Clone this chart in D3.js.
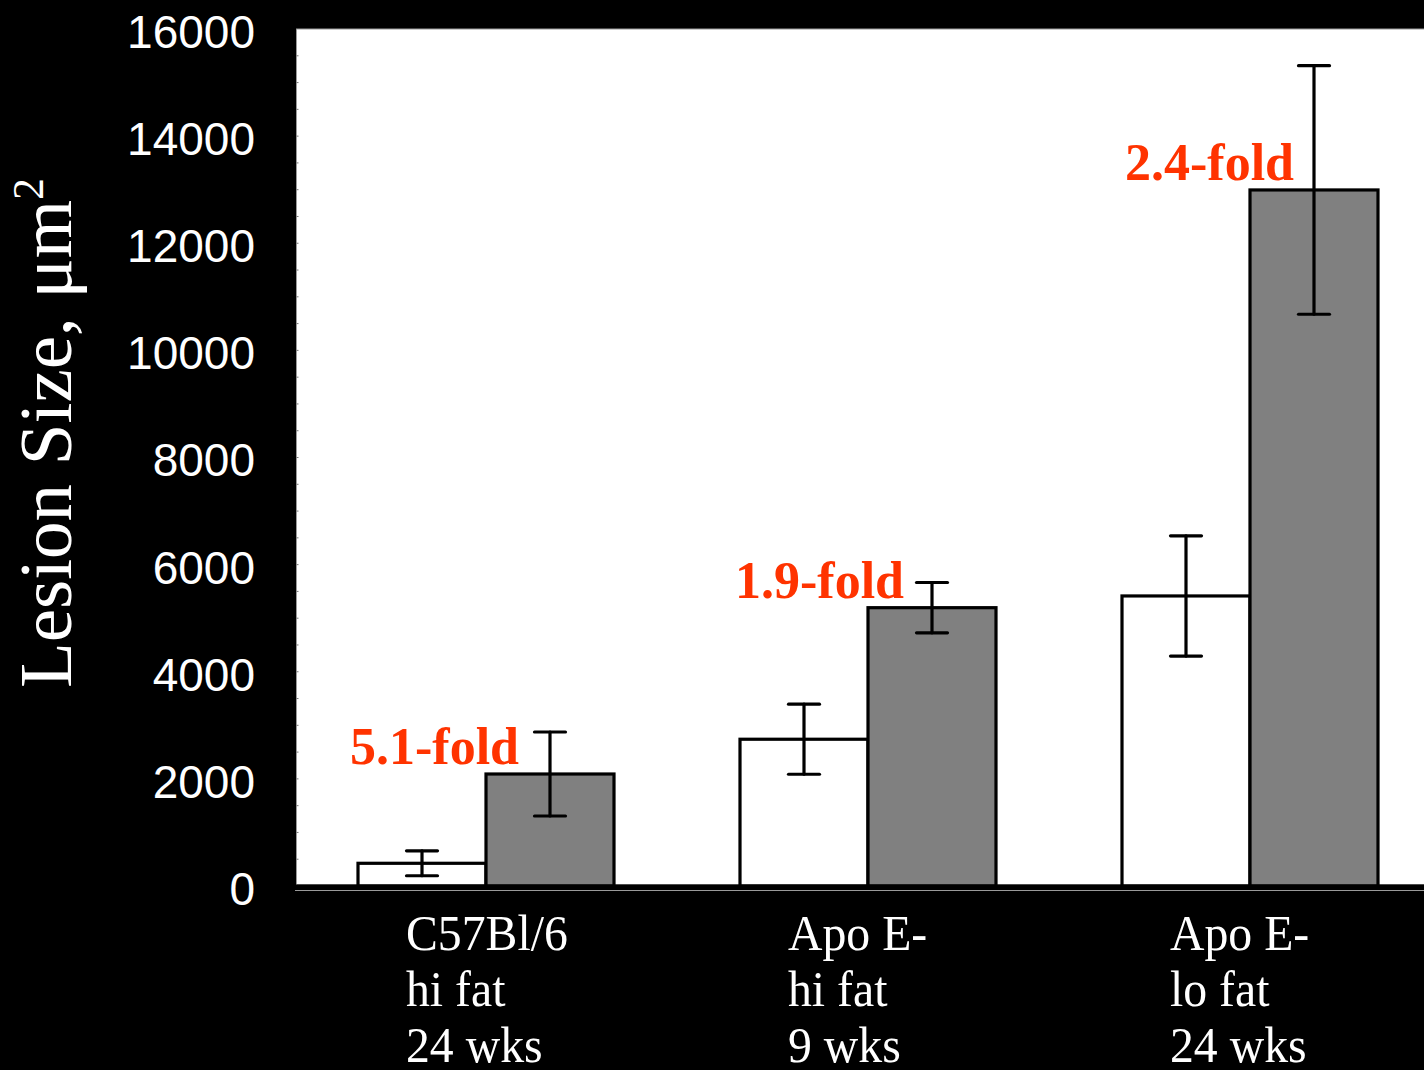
<!DOCTYPE html>
<html>
<head>
<meta charset="utf-8">
<script src="https://cdn.jsdelivr.net/npm/d3@7"></script>
<style>
  html, body { margin: 0; padding: 0; background: #000; }
  svg { display: block; }
</style>
</head>
<body>
<svg id="chart" width="1424" height="1070"></svg>
<script>
// ---- data ----
const categories = ["C57Bl/6|hi fat|24 wks", "Apo E-|hi fat|9 wks", "Apo E-|lo fat|24 wks"];
const series = ["control", "treated"];
const controlValues = [424, 2740, 5415];
const controlErrors = [233, 654, 1122];
const treatedValues = [2091, 5196, 12995];
const treatedErrors = [784, 470, 2321];
const foldLabels = ["5.1-fold", "1.9-fold", "2.4-fold"];
const yTicks = [0, 2000, 4000, 6000, 8000, 10000, 12000, 14000, 16000];
const yTitle = "Lesion Size, \u03bcm";

const rows = [];
categories.forEach((c, i) => {
  rows.push({cat: c, s: "control", v: controlValues[i], e: controlErrors[i]});
  rows.push({cat: c, s: "treated", v: treatedValues[i], e: treatedErrors[i]});
});

const svg = d3.select("#chart");
const W = 1424, H = 1070;
svg.append("rect").attr("width", W).attr("height", H).attr("fill", "#000");

const plotLeft = 296.5, plotTop = 29, plotBottom = 884.5;
const y = d3.scaleLinear().domain([0, 16000]).range([886, 29]);
const x = d3.scaleBand().domain(categories).range([295, 1441]).padding(0);
const xs = d3.scaleBand().domain(series).range([63, 319]).padding(0);

// plot background
svg.append("rect").attr("x", plotLeft).attr("y", plotTop)
  .attr("width", W - plotLeft + 5).attr("height", plotBottom - plotTop)
  .attr("fill", "#fff").attr("stroke", "#999").attr("stroke-width", 1);

// minor y ticks inside plot
const minor = d3.range(500, 16000, 500);
svg.append("g").selectAll("line").data(minor).join("line")
  .attr("x1", plotLeft).attr("x2", plotLeft + 2)
  .attr("y1", d => y(d)).attr("y2", d => y(d))
  .attr("stroke", "#777").attr("stroke-width", 1);

// y axis labels
const yAxis = d3.axisLeft(y).tickValues(yTicks).tickSize(0).tickPadding(41).tickFormat(d3.format("d"));
const yg = svg.append("g").attr("transform", "translate(296,0)").call(yAxis);
yg.select(".domain").remove();
yg.selectAll("text").attr("fill", "#fff")
  .attr("font-family", "'Liberation Sans', Arial, sans-serif")
  .attr("font-size", 46).attr("dy", "0.4em");

// bars
const bars = svg.append("g");
bars.selectAll("rect").data(rows).join("rect")
  .attr("x", d => x(d.cat) + xs(d.s))
  .attr("y", d => y(d.v))
  .attr("width", xs.bandwidth())
  .attr("height", d => y(0) - y(d.v))
  .attr("fill", d => d.s === "control" ? "#fff" : "#808080")
  .attr("stroke", "#000").attr("stroke-width", 3.2);

// error bars
const eg = svg.append("g").attr("stroke", "#000").attr("stroke-width", 3.2).attr("stroke-linecap", "round");
rows.forEach(d => {
  const cx = x(d.cat) + xs(d.s) + xs.bandwidth() / 2;
  eg.append("line").attr("x1", cx).attr("x2", cx).attr("y1", y(d.v + d.e)).attr("y2", y(d.v - d.e));
  eg.append("line").attr("x1", cx - 15.5).attr("x2", cx + 15.5).attr("y1", y(d.v + d.e)).attr("y2", y(d.v + d.e));
  eg.append("line").attr("x1", cx - 15.5).attr("x2", cx + 15.5).attr("y1", y(d.v - d.e)).attr("y2", y(d.v - d.e));
});

// x axis line
svg.append("line").attr("x1", 295).attr("x2", W).attr("y1", 886.5).attr("y2", 886.5)
  .attr("stroke", "#000").attr("stroke-width", 4);
svg.append("line").attr("x1", 295).attr("x2", W).attr("y1", 890.5).attr("y2", 890.5)
  .attr("stroke", "#9a9a9a").attr("stroke-width", 1);

// fold labels
const offs = [-31, -28, -20];
svg.append("g").selectAll("text").data(categories).join("text")
  .attr("x", (c, i) => x(c) + xs("treated") + xs.bandwidth() / 2 + offs[i])
  .attr("y", (c, i) => y(treatedValues[i]) - 10)
  .attr("text-anchor", "end")
  .attr("fill", "#ff3300")
  .attr("font-family", "'Liberation Serif', 'Times New Roman', serif")
  .attr("font-weight", "bold").attr("font-size", 52)
  .text((c, i) => foldLabels[i]);

// category labels (slightly condensed, as in the reference)
const cl = svg.append("g").selectAll("text").data(categories).join("text")
  .attr("transform", c => `translate(${x(c) + 111},0) scale(0.955,1)`)
  .attr("fill", "#fff")
  .attr("font-family", "'Liberation Serif', 'Times New Roman', serif")
  .attr("font-size", 50);
cl.each(function(c) {
  const t = d3.select(this);
  c.split("|").forEach((line, j) => {
    t.append("tspan").attr("x", 0).attr("y", 950 + j * 56).text(line);
  });
});

// y title
const yt = svg.append("text")
  .attr("transform", "translate(71,433) rotate(-90)")
  .attr("text-anchor", "middle")
  .attr("fill", "#fff")
  .attr("font-family", "'Liberation Serif', 'Times New Roman', serif")
  .attr("font-size", 75);
yt.append("tspan").text(yTitle);
yt.append("tspan").attr("font-size", 44).attr("dy", "-28").text("2");
</script>
</body>
</html>
